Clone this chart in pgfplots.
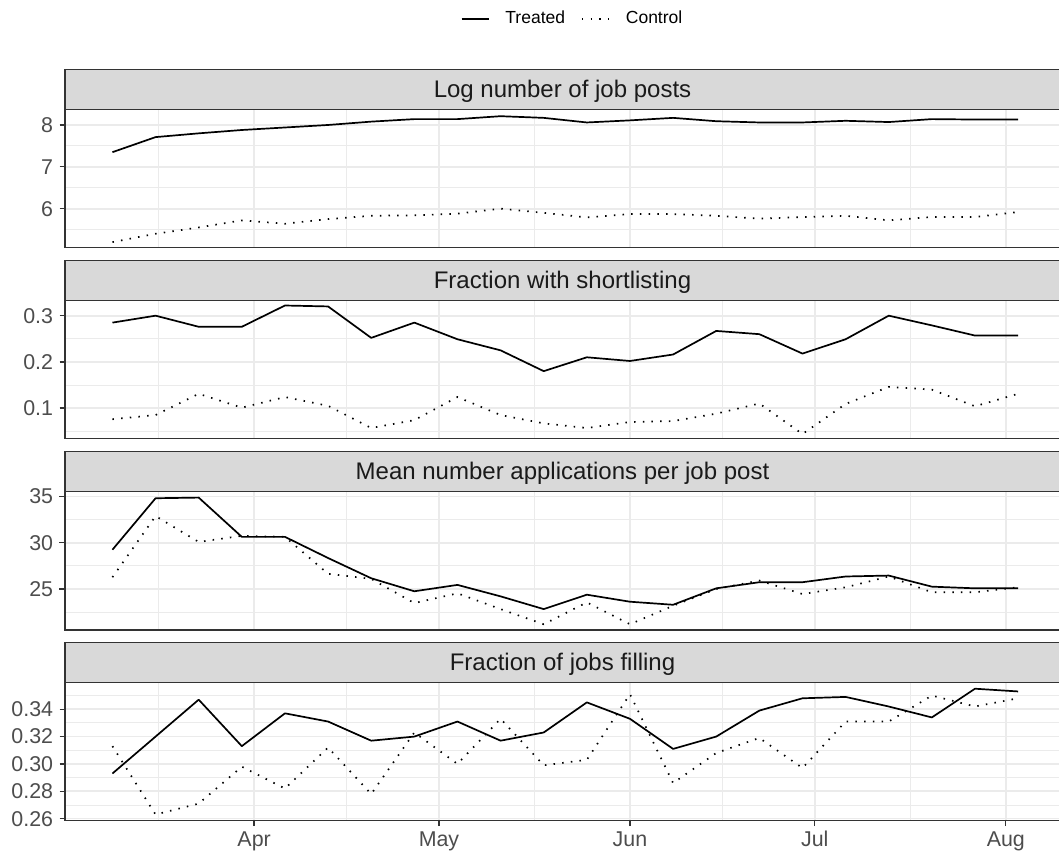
\documentclass[border=0pt]{standalone}
\usepackage{fontspec}
\setmainfont{Liberation Sans}
\usepackage{pgfplots}
\usepackage{pgfplotstable}
\pgfplotsset{compat=1.18}
\definecolor{gridc}{HTML}{EBEBEB}
\definecolor{framec}{HTML}{333333}
\definecolor{stripfill}{HTML}{D9D9D9}
\definecolor{ticklab}{HTML}{4D4D4D}
\definecolor{striptext}{HTML}{1A1A1A}

\pgfplotstableread{
d t c
-23 7.35 5.20
-16 7.71 5.40
-9 7.80 5.55
-2 7.88 5.72
5 7.94 5.64
12 8.00 5.75
19 8.08 5.83
26 8.14 5.84
33 8.14 5.88
40 8.21 6.00
47 8.17 5.90
54 8.06 5.79
61 8.11 5.87
68 8.17 5.87
75 8.09 5.83
82 8.06 5.76
89 8.06 5.80
96 8.10 5.83
103 8.07 5.72
110 8.14 5.80
117 8.13 5.80
124 8.13 5.92
}\tabposts

\pgfplotstableread{
d t c
-23 0.285 0.076
-16 0.300 0.085
-9 0.276 0.131
-2 0.276 0.101
5 0.322 0.124
12 0.320 0.105
19 0.252 0.057
26 0.285 0.074
33 0.249 0.124
40 0.225 0.085
47 0.180 0.067
54 0.210 0.057
61 0.202 0.070
68 0.216 0.072
75 0.267 0.088
82 0.260 0.110
89 0.218 0.044
96 0.249 0.109
103 0.300 0.146
110 0.279 0.140
117 0.257 0.104
124 0.257 0.131
}\tabshort

\pgfplotstableread{
d t c
-23 29.25 26.27
-16 34.82 32.89
-9 34.89 30.09
-2 30.64 30.75
5 30.64 30.64
12 28.35 26.64
19 26.16 26.09
26 24.75 23.47
33 25.44 24.53
40 24.20 22.82
47 22.82 21.18
54 24.38 23.55
61 23.62 21.18
68 23.29 23.18
75 25.07 25.00
82 25.73 25.91
89 25.73 24.45
96 26.35 25.18
103 26.45 26.35
110 25.25 24.64
117 25.07 24.64
124 25.07 25.18
}\tabapps

\pgfplotstableread{
d t c
-23 0.293 0.313
-16 0.320 0.263
-9 0.347 0.271
-2 0.313 0.298
5 0.337 0.282
12 0.331 0.312
19 0.317 0.278
26 0.320 0.323
33 0.331 0.300
40 0.317 0.333
47 0.323 0.299
54 0.345 0.303
61 0.333 0.351
68 0.311 0.286
75 0.320 0.308
82 0.339 0.319
89 0.348 0.297
96 0.349 0.331
103 0.342 0.331
110 0.334 0.350
117 0.355 0.342
124 0.353 0.348
}\tabfill

\pgfplotsset{
  panel/.style={
    scale only axis, width=497.5pt, height=69.2pt,
    xmin=-30.7, xmax=130.8,
    clip=false,
    axis line style={draw=framec, line width=0.65pt},
    tick align=outside, tick pos=left,
    major tick length=2.75pt,
    minor tick length=0pt,
    every tick/.style={draw=framec, line width=0.65pt},
    xtick={0,30,61,91,122},
    xticklabels={Apr,May,Jun,Jul,Aug},
    minor xtick={-15.5,15,45.5,76,106.5},
    grid=both,
    major grid style={draw=gridc, line width=0.85pt},
    minor grid style={draw=gridc, line width=0.45pt},
    tick label style={font=\fontsize{10.7}{12}\selectfont, text=ticklab},
    yticklabel style={inner sep=0pt, anchor=east},
    yticklabel shift=3pt,
    xticklabel style={inner sep=0pt, anchor=north, text height=0.72em, text depth=0.21em},
    xticklabel shift=2.75pt,
  },
  upper/.style={xticklabels={}, xtick style={draw=none}},
  treated/.style={black, line width=0.85pt, line join=round},
  control/.style={black, line width=0.85pt, line cap=butt, dash pattern=on 0.75pt off 3.6pt},
}

\newcommand{\strip}[1]{%
  \draw[fill=stripfill, draw=framec, line width=0.65pt] (rel axis cs:0,1) rectangle ([yshift=20pt]rel axis cs:1,1);
  \node[anchor=base, inner sep=0pt, font=\fontsize{12}{14}\selectfont, text=striptext] at ([yshift=5.85pt]rel axis cs:0.5,1) {#1};
}

\begin{document}
\begin{tikzpicture}
\useasboundingbox (0,0) rectangle (529.5pt,427pt);

% Panel 1
\begin{axis}[panel, upper, at={(32.5pt,303.15pt)}, anchor=south west,
  ymin=5.067, ymax=8.375, ytick={6,7,8}, yticklabels={6,7,8}, minor ytick={5.5,6.5,7.5},
  legend columns=2,
  legend style={draw=none, fill=none, inner sep=0pt, at={(0.509,1.655)}, anchor=center,
    font=\fontsize{8.75}{10}\selectfont, text=black,
    nodes={inner sep=0pt},
    /tikz/every odd column/.append style={column sep=8pt},
    /tikz/every even column/.append style={column sep=8pt}},
  legend image code/.code={\draw[#1, line width=0.9pt] (0pt,0pt) -- (13.5pt,0pt);},
  ]
\addplot[treated] table[x=d, y=t] {\tabposts};
\addlegendentry{Treated}
\addplot[control] table[x=d, y=c] {\tabposts};
\addlegendentry{Control}
\strip{Log number of job posts}
\end{axis}

% Panel 2
\begin{axis}[panel, upper, at={(32.5pt,207.65pt)}, anchor=south west,
  ymin=0.0339, ymax=0.3333, ytick={0.1,0.2,0.3}, yticklabels={0.1,0.2,0.3}, minor ytick={0.05,0.15,0.25}]
\addplot[treated] table[x=d, y=t] {\tabshort};
\addplot[control] table[x=d, y=c] {\tabshort};
\strip{Fraction with shortlisting}
\end{axis}

% Panel 3
\begin{axis}[panel, upper, at={(32.5pt,112pt)}, anchor=south west,
  ymin=20.56, ymax=35.54, ytick={25,30,35}, yticklabels={25,30,35}, minor ytick={22.5,27.5,32.5}]
\addplot[treated] table[x=d, y=t] {\tabapps};
\addplot[control] table[x=d, y=c] {\tabapps};
\strip{Mean number applications per job post}
\end{axis}

% Panel 4
\begin{axis}[panel, at={(32.5pt,16.65pt)}, anchor=south west,
  ymin=0.2585, ymax=0.3597, ytick={0.26,0.28,0.30,0.32,0.34}, yticklabels={0.26,0.28,0.30,0.32,0.34},
  minor ytick={0.27,0.29,0.31,0.33,0.35}]
\addplot[treated] table[x=d, y=t] {\tabfill};
\addplot[control] table[x=d, y=c] {\tabfill};
\strip{Fraction of jobs filling}
\end{axis}
\end{tikzpicture}
\end{document}
